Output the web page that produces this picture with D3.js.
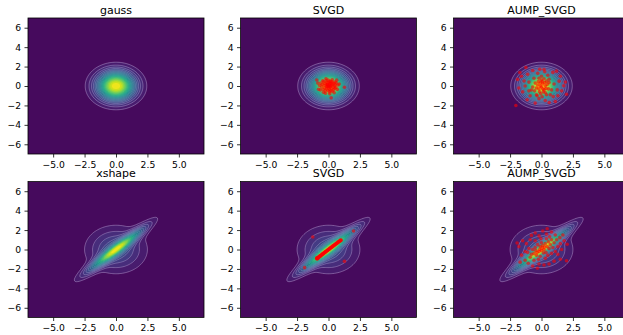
<!DOCTYPE html>
<html><head><meta charset="utf-8">
<script src="https://cdn.jsdelivr.net/npm/d3@7"></script>
<style>body{margin:0;background:#fff}svg{display:block}text{font-family:"DejaVu Sans",sans-serif}</style>
</head><body>
<svg id="c" width="623" height="335"></svg>
<script>
// ---- data ----
const panelTitles = [["gauss","SVGD","AUMP_SVGD"],["xshape","SVGD","AUMP_SVGD"]];
const xTicks = [-5, -2.5, 0, 2.5, 5];
const yTicks = [-6, -4, -2, 0, 2, 4, 6];
const domainX = [-7, 7], domainY = [-7, 7];
// target distributions (parameters)
const gaussWeights = [1];
const gaussCovs = [[[1,0],[0,1]]];
const xshapeWeights = [0.5, 0.5];
const xshapeCovs = [[[2,1.9],[1.9,2]], [[2,0],[0,2]]];
const nLevels = 20;
// particles
const svgdGauss = [[-0.93,0.61],[-0.45,0.54],[1.27,-0.13],[0.21,-1.22],[-0.79,-0.33],[-0.24,-0.74],
[-0.6,0.3],[-0.55,-0.1],[-0.5,0.15],[-0.42,-0.35],[-0.38,0.42],[-0.35,0.05],[-0.3,-0.2],[-0.28,0.28],[-0.25,-0.5],[-0.2,0.1],[-0.18,0.55],[-0.15,-0.3],[-0.12,0.35],[-0.1,-0.05],[-0.08,0.2],[-0.05,-0.45],[-0.03,0.6],[0,0],[0.02,-0.2],[0.04,0.4],[0.06,-0.6],[0.08,0.15],[0.1,-0.35],[0.12,0.5],[0.14,-0.1],[0.16,0.3],[0.18,-0.5],[0.2,0.05],[0.22,0.45],[0.25,-0.25],[0.28,0.2],[0.3,-0.55],[0.33,0.1],[0.35,0.38],[0.38,-0.12],[0.4,-0.4],[0.43,0.25],[0.46,0.0],[0.5,-0.25],[0.52,0.4],[0.55,0.12],[0.58,-0.15],[0.62,0.3],[0.7,-0.35],[0.75,0.1],[0.85,0.2],[-0.7,0.05],[-0.65,-0.4],[0.3,0.65],[-0.2,0.75],[0.1,-0.8],[-0.4,-0.65],[0.45,-0.7],[0.65,0.6],[-0.85,0.3],[-0.1,0.15],[0.05,-0.05],[0.15,0.0],[-0.05,0.05],[0.1,0.25],[-0.15,-0.1]];
const aumpGauss = [[-2.04,-2.0],[-1.24,1.9],[-1.72,1.39],[-1.9,0.68],[-1.38,0.51],[1.19,1.53],[1.77,0.03],[1.99,-0.85],[0.93,-1.09],[0.61,-1.7],[-0.5,-1.76],[-1.14,-1.42],[-0.8,-0.41],
[-1.6,1.0],[-1.1,1.2],[-0.7,1.6],[-0.3,1.3],[0.2,1.7],[0.5,1.1],[0.9,1.4],[1.5,1.0],[1.4,0.5],[1.9,0.4],[1.6,-0.5],[1.3,-1.0],[1.1,-1.6],[0.3,-1.5],[-0.2,-1.3],[-0.9,-1.0],[-1.5,-0.6],[-1.8,-0.2],[-1.3,0.0],[-1.0,0.4],[-0.6,0.8],[0.0,1.0],[0.6,0.7],[1.0,0.2],[0.8,-0.4],[0.4,-0.9],[-0.4,-0.9],
[-0.3,0.1],[-0.2,-0.3],[-0.1,0.3],[0.0,-0.1],[0.1,0.2],[0.2,-0.4],[0.3,0.0],[0.15,-0.6],[-0.15,-0.6],[0.35,-0.25],[-0.4,-0.2],[0.05,0.45],[0.25,0.35],[-0.25,0.45],[0.45,0.15],[-0.05,-0.8],[0.1,-0.3],[-0.1,0.0],[0.0,0.6],[0.3,-0.7],
[-0.14,1.73],[0.26,1.46],[0.55,-0.3],[0.6,0.35],[-0.5,0.3],[-0.55,-0.5],[0.2,0.75],[-0.2,0.8],[0.7,-0.9],[-0.7,-0.1],[1.25,-0.4],[-1.0,-0.5],[0.4,0.5],[-0.35,-1.0],[0.05,-1.1]];
const svgdX = [[-1.25,1.28],[1.99,1.9],[-1.9,-1.87],[1.27,-1.22],
[-0.95,-0.92],[-0.92,-0.97],[-0.9,-0.88],[-0.88,-0.93],[-0.86,-0.84],[-0.83,-0.88],[-0.8,-0.78],[-0.78,-0.83],[-0.75,-0.72],[-0.72,-0.76],[-0.7,-0.68],[-0.67,-0.7],[-0.64,-0.61],[-0.62,-0.66],[-0.59,-0.56],[-0.56,-0.6],[-0.53,-0.5],[-0.5,-0.54],[-0.47,-0.45],[-0.45,-0.48],[-0.42,-0.39],[-0.39,-0.42],[-0.36,-0.34],[-0.33,-0.36],[-0.3,-0.27],[-0.27,-0.3],[-0.24,-0.22],[-0.21,-0.24],[-0.18,-0.16],[-0.15,-0.18],[-0.12,-0.1],[-0.09,-0.12],[-0.06,-0.04],[-0.03,-0.06],[0.0,0.02],[0.03,0.0],[0.06,0.08],[0.09,0.06],[0.12,0.14],[0.15,0.12],[0.18,0.2],[0.21,0.18],[0.24,0.26],[0.27,0.24],[0.3,0.32],[0.33,0.3],[0.36,0.37],[0.39,0.36],[0.42,0.43],[0.45,0.42],[0.48,0.49],[0.51,0.48],[0.54,0.55],[0.57,0.53],[0.6,0.61],[0.63,0.59],[0.66,0.67],[0.69,0.65],[0.72,0.73],[0.75,0.71],[0.78,0.79],[0.81,0.77],[0.84,0.85],[0.87,0.83],[0.9,0.91],[0.93,0.88],[0.96,0.96],[0.99,0.93],[1.0,0.97],[-0.93,-0.85],[-0.85,-0.95]];
const aumpX = [[0.45,2.13],[-0.8,1.45],[-1.94,0.67],[1.46,1.22],[2.04,0.54],[1.99,-1.16],[-1.06,-1.42],[-0.32,-1.93],[-1.59,-0.58],
[-1.8,0.3],[-1.5,0.9],[-1.2,0.6],[-1.3,-0.2],[-1.0,0.1],[-0.9,1.0],[-0.5,1.7],[-0.2,1.4],[0.1,1.9],[0.4,1.6],[0.8,1.8],[1.1,1.5],[1.7,1.5],[1.8,0.9],[1.5,0.6],[1.6,0.0],[1.3,-0.5],[1.5,-1.0],[1.0,-1.2],[0.6,-1.5],[0.2,-1.6],[-0.2,-1.5],[-0.7,-1.7],[-1.3,-1.1],[-1.7,-1.3],[-0.9,-0.8],[-0.6,-1.1],
[-0.6,-0.4],[-0.5,0.2],[-0.4,-0.6],[-0.3,0.5],[-0.2,-0.2],[-0.1,0.3],[0.0,-0.1],[0.1,0.4],[0.2,0.0],[0.3,0.6],[0.35,-0.3],[0.45,0.3],[0.55,0.8],[0.6,0.1],[0.7,0.5],[0.8,1.0],[0.9,0.2],[1.0,0.7],[1.2,1.0],[-0.8,-0.5],[-0.7,0.0],[-0.35,-0.3],[-0.15,0.0],[0.05,0.15],[0.15,-0.35],[0.25,0.25],[0.0,0.7],[-0.5,0.9],[0.4,1.1],[-0.1,-0.7],[0.5,-0.6],[0.8,-0.4],[1.1,-0.2],[-1.1,-0.3],[-0.25,-1.0],[0.3,-0.9],[-0.05,1.1],[0.65,1.3],[1.3,0.3],[-0.45,-0.1]];
const particles = [[null, svgdGauss, aumpGauss],[null, svgdX, aumpX]];

// ---- layout ----
const lefts = [28, 240.5, 453.5], tops = [18, 181.5];
const W = 176, H = 136;
const svg = d3.select("#c");

function mvn(x, y, c) {
  const a = c[0][0], b = c[0][1], d = c[1][1], det = a*d - b*b;
  const q = (d*x*x - 2*b*x*y + a*y*y)/det;
  return Math.exp(-q/2)/(2*Math.PI*Math.sqrt(det));
}
const n = 140, step = (domainX[1]-domainX[0])/n;
function grid(ws, covs) {
  const v = new Array(n*n);
  for (let j = 0; j < n; j++) for (let i = 0; i < n; i++) {
    const x = domainX[0] + (i+0.5)*step, y = domainY[0] + (j+0.5)*step;
    let s = 0; ws.forEach((w,k) => s += w*mvn(x, y, covs[k]));
    v[j*n+i] = s;
  }
  return v;
}
const grids = [grid(gaussWeights, gaussCovs), grid(xshapeWeights, xshapeCovs)];
let uid = 0;
for (let r = 0; r < 2; r++) {
  const vals = grids[r];
  const vmax = d3.max(vals);
  const levels = d3.range(1, nLevels).map(k => vmax*k/nLevels);
  const cont = d3.contours().size([n, n]).thresholds(levels)(vals);
  for (let c = 0; c < 3; c++) {
    const x = d3.scaleLinear().domain(domainX).range([lefts[c], lefts[c]+W]);
    const y = d3.scaleLinear().domain(domainY).range([tops[r]+H, tops[r]]);
    const proj = d3.geoTransform({point: function(px, py){
      this.stream.point(x(domainX[0] + px*step), y(domainY[0] + py*step)); }});
    const path = d3.geoPath(proj);
    const id = "clip" + (uid++);
    svg.append("clipPath").attr("id", id).append("rect")
      .attr("x", lefts[c]).attr("y", tops[r]).attr("width", W).attr("height", H);
    const g = svg.append("g").attr("clip-path", `url(#${id})`);
    g.append("rect").attr("x", lefts[c]).attr("y", tops[r]).attr("width", W).attr("height", H)
      .attr("fill", d3.interpolateViridis(0.5/nLevels));
    cont.forEach((cc, k) => {
      g.append("path").attr("d", path(cc))
        .attr("fill", d3.interpolateViridis((k+1.5)/nLevels));
    });
    cont.forEach((cc, k) => {
      g.append("path").attr("d", path(cc)).attr("fill", "none")
        .attr("stroke", "#e6d8ff").attr("stroke-width", 0.6)
        .attr("stroke-opacity", 0.6*Math.pow(1 - k/nLevels, 2));
    });
    const pts = particles[r][c];
    if (pts) {
      g.selectAll(null).data(pts).enter().append("circle")
        .attr("cx", d => x(d[0])).attr("cy", d => y(d[1])).attr("r", 1.8)
        .attr("fill", "red").attr("fill-opacity", 0.6);
    }
    // axes
    const ax = svg.append("g").attr("transform", `translate(0,${tops[r]+H})`)
      .call(d3.axisBottom(x).tickValues(xTicks).tickFormat(d3.format(".1f")).tickSize(3.5).tickPadding(3.5));
    const ay = svg.append("g").attr("transform", `translate(${lefts[c]},0)`)
      .call(d3.axisLeft(y).tickValues(yTicks).tickFormat(d3.format("d")).tickSize(3.5).tickPadding(3.5));
    [ax, ay].forEach(a => {
      a.select(".domain").remove();
      a.selectAll("line").attr("stroke", "#000").attr("stroke-width", 0.8);
      a.selectAll("text").attr("fill", "#000").style("font-size", "9.2px").style("font-family", "DejaVu Sans");
    });
    svg.append("rect").attr("x", lefts[c]).attr("y", tops[r]).attr("width", W).attr("height", H)
      .attr("fill", "none").attr("stroke", "#000").attr("stroke-width", 0.8);
    svg.append("text").attr("x", lefts[c]+W/2).attr("y", tops[r]-4.5).attr("text-anchor", "middle")
      .style("font-size", "11px").attr("fill", "#000").text(panelTitles[r][c]);
  }
}
</script>
</body></html>
